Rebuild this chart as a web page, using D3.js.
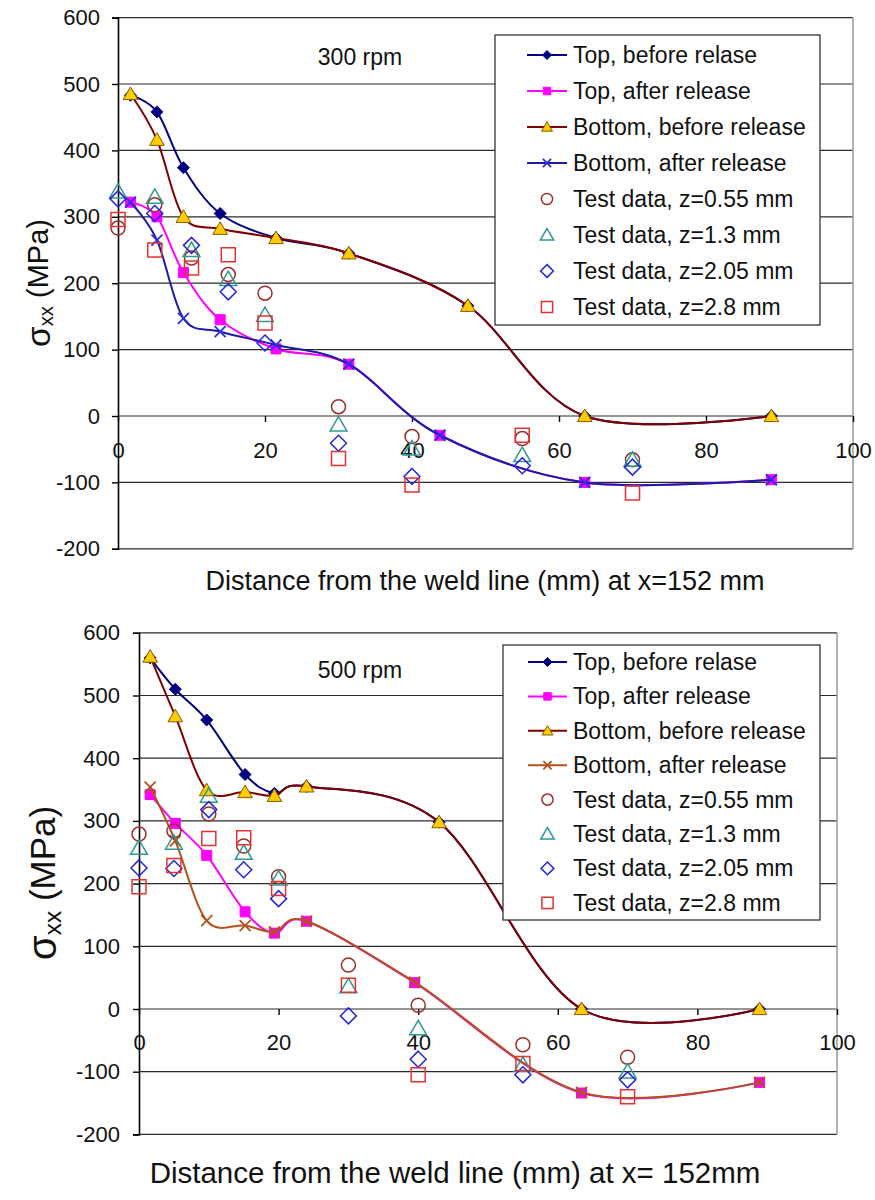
<!DOCTYPE html>
<html>
<head>
<meta charset="utf-8">
<script src="https://cdn.jsdelivr.net/npm/d3@7"></script>
<style>
  body { margin: 0; background: #fff; }
  svg { display: block; }
  text { font-family: "Liberation Sans", Arial, Helvetica, sans-serif; }
</style>
</head>
<body>
<svg id="chart" width="875" height="1200"></svg>
<script>
// ---- shared axis values ----
const yTicks = [-200, -100, 0, 100, 200, 300, 400, 500, 600];
const xTicks = [0, 20, 40, 60, 80, 100];

// distances of the measured points (mm)
const testX = [0, 5, 10, 15, 20, 30, 40, 55, 70];

// ---- 300 rpm : simulated stresses (MPa) ----
const x300Before = [1.7, 5.3, 8.9, 13.9, 21.5, 31.4, 47.6, 63.5, 88.9];
const x300After  = [1.7, 5.3, 8.9, 13.9, 21.5, 31.4, 43.8, 63.5, 88.9];
const s300TopBefore    = [483, 458, 374, 305, 268, 245, 166, 0, 0];
const s300TopAfter     = [322, 300, 216, 145, 101, 78, -29, -100, -96];
const s300BottomBefore = [485, 416, 300, 282, 268, 245, 166, 0, 0];
const s300BottomAfter  = [322, 265, 147, 127, 107, 78, -29, -100, -96];

// ---- 300 rpm : measured stresses (MPa) ----
const t300z055 = [283, 318, 238, 213, 185, 14, -31, -34, -66];
const t300z13  = [338, 330, 250, 206, 152, -13, -49, -59, -66];
const t300z205 = [327, 305, 257, 187, 110, -41, -91, -75, -77];
const t300z28  = [296, 250, 223, 243, 140, -64, -104, -29, -116];

// ---- 500 rpm : simulated stresses (MPa) ----
const x500Before = [1.6, 5.2, 9.7, 15.2, 19.4, 24, 43, 63.4, 88.9];
const x500After  = [1.6, 5.2, 9.7, 15.2, 19.4, 24, 39.5, 63.4, 88.9];
const s500TopBefore    = [560, 510, 461, 374, 344, 355, 298, 0, 0];
const s500TopAfter     = [342, 296, 245, 155, 121, 140, 42, -134, -117];
const s500BottomBefore = [562, 467, 349, 346, 340, 355, 298, 0, 0];
const s500BottomAfter  = [354, 268, 141, 133, 123, 140, 43, -133, -117];

// ---- 500 rpm : measured stresses (MPa) ----
const t500z055 = [279, 284, 311, 260, 211, 70, 6, -57, -77];
const t500z13  = [257, 265, 340, 249, 208, 36, -31, -89, -100];
const t500z205 = [225, 224, 318, 222, 176, -11, -80, -105, -113];
const t500z28  = [195, 229, 272, 273, 192, 38, -105, -87, -140];

// ---- legend labels ----
const legendLabels = [
  "Top, before relase",
  "Top, after release",
  "Bottom, before release",
  "Bottom, after release",
  "Test data, z=0.55 mm",
  "Test data, z=1.3 mm",
  "Test data, z=2.05 mm",
  "Test data, z=2.8 mm"
];

const zip = (xs, ys) => xs.map((v, i) => [v, ys[i]]);

// ---- marker shapes (paths centred on 0,0) ----
const shapes = {
  diamond: r => `M0,${-r}L${r},0L0,${r}L${-r},0Z`,
  square: r => `M${-r},${-r}h${2 * r}v${2 * r}h${-2 * r}Z`,
  triangle: r => `M0,${-r}L${r * 1.05},${r * 0.8}L${-r * 1.05},${r * 0.8}Z`,
  cross: r => `M${-r},${-r}L${r},${r}M${r},${-r}L${-r},${r}`,
  circle: r => `M${r},0A${r},${r} 0 1,1 ${-r},0A${r},${r} 0 1,1 ${r},0Z`
};

const svg = d3.select("#chart");

function drawPanel(cfg) {
  const g = svg.append("g");
  const x = d3.scaleLinear().domain([0, 100]).range([cfg.left, cfg.right]);
  const y = d3.scaleLinear().domain([-200, 600]).range([cfg.bottom, cfg.top]);

  // horizontal gridlines
  g.append("g").selectAll("line").data(yTicks).join("line")
    .attr("x1", cfg.left).attr("x2", cfg.right)
    .attr("y1", d => y(d)).attr("y2", d => y(d))
    .attr("stroke", "#2b2b2b").attr("stroke-width", 1.2);

  // right edge of the plot area
  g.append("line")
    .attr("x1", cfg.right).attr("x2", cfg.right)
    .attr("y1", cfg.top).attr("y2", cfg.bottom)
    .attr("stroke", "#9a9a9a").attr("stroke-width", 1.5);

  // value axis
  const ya = g.append("g")
    .attr("transform", `translate(${cfg.left},0)`)
    .call(d3.axisLeft(y).tickValues(yTicks).tickSize(6).tickPadding(cfg.yPad)
      .tickFormat(d => String(d)));
  ya.attr("font-family", null).attr("font-size", cfg.tickFont);
  ya.select(".domain").attr("stroke", "#000").attr("stroke-width", 1.6);
  ya.selectAll(".tick line").attr("stroke", "#000").attr("stroke-width", 1.4);
  ya.selectAll("text").attr("fill", "#111");

  // category axis, crossing at zero
  const xa = g.append("g")
    .attr("transform", `translate(0,${y(0)})`)
    .call(d3.axisBottom(x).tickValues(xTicks).tickSize(6).tickFormat(d => String(d)));
  xa.attr("font-family", null).attr("font-size", cfg.tickFont);
  xa.select(".domain").remove();
  xa.selectAll(".tick line").attr("stroke", "#000").attr("stroke-width", 1.4);
  xa.selectAll("text").attr("y", cfg.xLabelOffset).attr("fill", "#111");

  // smoothed simulation curves
  const line = d3.line()
    .x(d => x(d[0])).y(d => y(d[1]))
    .curve(d3.curveCardinal.tension(0));

  const marks = g.append("g");
  cfg.series.forEach(s => {
    marks.append("path")
      .attr("d", line(s.points))
      .attr("fill", "none")
      .attr("stroke", s.line)
      .attr("stroke-width", 2);
    marks.append("g").selectAll("path").data(s.points).join("path")
      .attr("transform", d => `translate(${x(d[0])},${y(d[1])})`)
      .attr("d", shapes[s.shape](s.r))
      .attr("fill", s.fill)
      .attr("stroke", s.stroke)
      .attr("stroke-width", s.sw);
  });

  // measured points
  cfg.tests.forEach(t => {
    marks.append("g").selectAll("path").data(t.points).join("path")
      .attr("transform", d => `translate(${x(d[0])},${y(d[1])})`)
      .attr("d", shapes[t.shape](t.r))
      .attr("fill", "none")
      .attr("stroke", t.stroke)
      .attr("stroke-width", 1.5);
  });

  // speed label
  g.append("text")
    .attr("x", cfg.title.x).attr("y", cfg.title.y)
    .attr("text-anchor", "middle").attr("dominant-baseline", "central")
    .attr("font-size", cfg.title.size).attr("fill", "#111")
    .text(cfg.title.text);

  // legend
  const L = cfg.legend;
  const lg = g.append("g");
  lg.append("rect")
    .attr("x", L.x).attr("y", L.y).attr("width", L.w).attr("height", L.h)
    .attr("fill", "#fff").attr("stroke", "#333").attr("stroke-width", 1.3);
  const entries = cfg.series.map(s => ({ ...s, isLine: true }))
    .concat(cfg.tests.map(t => ({ ...t, isLine: false })));
  entries.forEach((e, i) => {
    const cy = L.row0 + i * L.dy;
    const row = lg.append("g");
    if (e.isLine) {
      row.append("line")
        .attr("x1", L.lineX0).attr("x2", L.lineX1).attr("y1", cy).attr("y2", cy)
        .attr("stroke", e.line).attr("stroke-width", 2);
      row.append("path")
        .attr("transform", `translate(${(L.lineX0 + L.lineX1) / 2},${cy})`)
        .attr("d", shapes[e.shape](e.r * 0.75))
        .attr("fill", e.fill).attr("stroke", e.stroke).attr("stroke-width", e.sw);
    } else {
      row.append("path")
        .attr("transform", `translate(${(L.lineX0 + L.lineX1) / 2},${cy})`)
        .attr("d", shapes[e.shape](e.r * 0.8))
        .attr("fill", "none").attr("stroke", e.stroke).attr("stroke-width", 1.5);
    }
    row.append("text")
      .attr("x", L.textX).attr("y", cy)
      .attr("dominant-baseline", "central")
      .attr("font-size", L.font).attr("fill", "#111")
      .text(legendLabels[i]);
  });

  // axis titles
  const yt = g.append("text")
    .attr("transform", `translate(${cfg.yTitle.x},${cfg.yTitle.y}) rotate(-90)`)
    .attr("text-anchor", "middle").attr("dominant-baseline", "central")
    .attr("font-size", cfg.yTitle.size).attr("fill", "#111");
  yt.append("tspan").attr("font-size", cfg.yTitle.size * 1.15).text("σ");
  yt.append("tspan").attr("font-size", cfg.yTitle.size * 0.7).attr("dy", cfg.yTitle.size * 0.28).text("xx");
  yt.append("tspan").attr("dy", -cfg.yTitle.size * 0.28).text(" (MPa)");

  g.append("text")
    .attr("x", cfg.xTitle.x).attr("y", cfg.xTitle.y)
    .attr("text-anchor", "middle").attr("dominant-baseline", "central")
    .attr("font-size", cfg.xTitle.size).attr("fill", "#111")
    .text(cfg.xTitle.text);
}

function testSeries(z055, z13, z205, z28) {
  return [
    { points: zip(testX, z055), shape: "circle", r: 7, stroke: "#9b2f2f" },
    { points: zip(testX, z13), shape: "triangle", r: 8, stroke: "#2f9a92" },
    { points: zip(testX, z205), shape: "diamond", r: 8, stroke: "#2626d6" },
    { points: zip(testX, z28), shape: "square", r: 7, stroke: "#e43232" }
  ];
}

// ---- 300 rpm panel ----
drawPanel({
  left: 118, right: 853, top: 17.6, bottom: 548.8,
  tickFont: 22, yPad: 12, xLabelOffset: 26,
  title: { text: "300 rpm", x: 360, y: 57, size: 23 },
  xTitle: { text: "Distance from the weld line (mm) at x=152 mm", x: 485, y: 581, size: 27 },
  yTitle: { x: 38, y: 283, size: 29 },
  legend: { x: 495, y: 35, w: 325, h: 290, row0: 55, dy: 36, lineX0: 527, lineX1: 567, textX: 573, font: 23 },
  series: [
    { points: zip(x300Before, s300TopBefore), line: "#000080", shape: "diamond", r: 6, fill: "#000080", stroke: "#000080", sw: 1 },
    { points: zip(x300After, s300TopAfter), line: "#ff00ff", shape: "square", r: 5, fill: "#ff00ff", stroke: "#ff00ff", sw: 1 },
    { points: zip(x300Before, s300BottomBefore), line: "#800000", shape: "triangle", r: 7, fill: "#ffcc00", stroke: "#8a5a00", sw: 1 },
    { points: zip(x300After, s300BottomAfter), line: "#1c1ca8", shape: "cross", r: 5.5, fill: "none", stroke: "#2e2ee6", sw: 1.8 }
  ],
  tests: testSeries(t300z055, t300z13, t300z205, t300z28)
});

// ---- 500 rpm panel ----
drawPanel({
  left: 139, right: 837, top: 632.8, bottom: 1134.4,
  tickFont: 22, yPad: 13, xLabelOffset: 25,
  title: { text: "500 rpm", x: 360, y: 670, size: 23 },
  xTitle: { text: "Distance from the weld line (mm) at x= 152mm", x: 455, y: 1172, size: 29.5 },
  yTitle: { x: 42, y: 883, size: 35 },
  legend: { x: 503, y: 645, w: 317, h: 275, row0: 662, dy: 34.4, lineX0: 528, lineX1: 567, textX: 573, font: 23 },
  series: [
    { points: zip(x500Before, s500TopBefore), line: "#000080", shape: "diamond", r: 6, fill: "#000080", stroke: "#000080", sw: 1 },
    { points: zip(x500After, s500TopAfter), line: "#ff00ff", shape: "square", r: 5, fill: "#ff00ff", stroke: "#ff00ff", sw: 1 },
    { points: zip(x500Before, s500BottomBefore), line: "#800000", shape: "triangle", r: 7, fill: "#ffcc00", stroke: "#8a5a00", sw: 1 },
    { points: zip(x500After, s500BottomAfter), line: "#b2521c", shape: "cross", r: 5.5, fill: "none", stroke: "#b2521c", sw: 1.8 }
  ],
  tests: testSeries(t500z055, t500z13, t500z205, t500z28)
});
</script>
</body>
</html>
